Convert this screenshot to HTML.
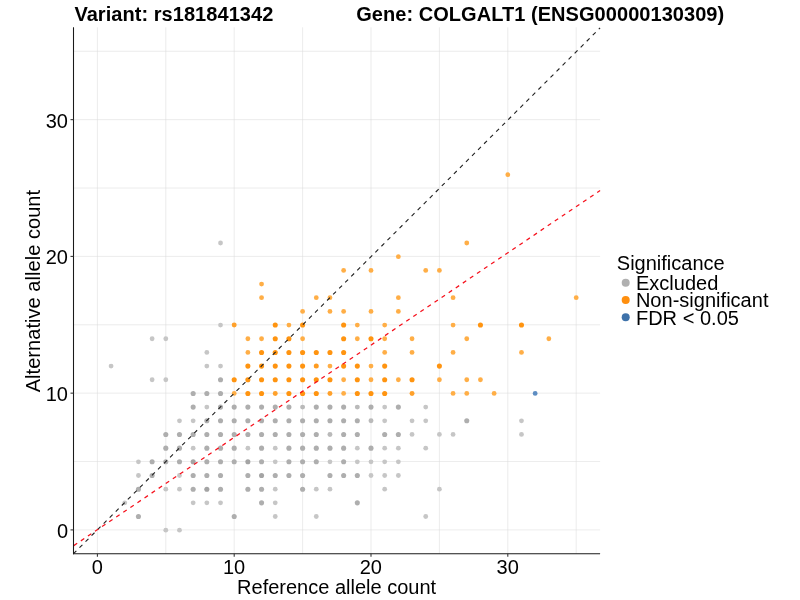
<!DOCTYPE html>
<html lang="en">
<head>
<meta charset="utf-8">
<title>Allele count plot</title>
<style>
html,body{margin:0;padding:0;background:#fff;}
body{width:800px;height:600px;overflow:hidden;font-family:"Liberation Sans",sans-serif;}
svg{display:block;will-change:transform;}
text{font-family:"Liberation Sans",sans-serif;font-size:20px;fill:#000;}
.b{font-weight:bold;}
.ls{letter-spacing:0.05px;}
.l2{letter-spacing:0.02px;}
.g line{stroke:#dadada;stroke-width:0.53;}
.ax{stroke:#1a1a1a;stroke-width:1.07;fill:none;}
.tk line{stroke:#333;stroke-width:1.07;}
</style>
</head>
<body>
<svg width="800" height="600" viewBox="0 0 800 600">
<rect x="0" y="0" width="800" height="600" fill="#ffffff"/>
<text class="b ls" x="74.4" y="20.7">Variant: rs181841342</text>
<text class="b ls" x="356.2" y="20.7">Gene: COLGALT1 (ENSG00000130309)</text>
<g class="g">
<line x1="97.40" y1="27.3" x2="97.40" y2="553.7"/>
<line x1="165.80" y1="27.3" x2="165.80" y2="553.7"/>
<line x1="234.20" y1="27.3" x2="234.20" y2="553.7"/>
<line x1="302.60" y1="27.3" x2="302.60" y2="553.7"/>
<line x1="371.00" y1="27.3" x2="371.00" y2="553.7"/>
<line x1="439.40" y1="27.3" x2="439.40" y2="553.7"/>
<line x1="507.80" y1="27.3" x2="507.80" y2="553.7"/>
<line x1="576.20" y1="27.3" x2="576.20" y2="553.7"/>
<line x1="73.5" y1="529.90" x2="600.1" y2="529.90"/>
<line x1="73.5" y1="461.52" x2="600.1" y2="461.52"/>
<line x1="73.5" y1="393.15" x2="600.1" y2="393.15"/>
<line x1="73.5" y1="324.77" x2="600.1" y2="324.77"/>
<line x1="73.5" y1="256.40" x2="600.1" y2="256.40"/>
<line x1="73.5" y1="188.02" x2="600.1" y2="188.02"/>
<line x1="73.5" y1="119.65" x2="600.1" y2="119.65"/>
<line x1="73.5" y1="51.27" x2="600.1" y2="51.27"/>
</g>
<g>
<circle cx="165.80" cy="530.20" r="2.40" fill="#c6c6c6"/>
<circle cx="179.48" cy="530.20" r="2.40" fill="#c6c6c6"/>
<circle cx="138.44" cy="516.52" r="2.55" fill="#aeaeae"/>
<circle cx="234.20" cy="516.52" r="2.55" fill="#aeaeae"/>
<circle cx="275.24" cy="516.52" r="2.40" fill="#c6c6c6"/>
<circle cx="316.28" cy="516.52" r="2.40" fill="#c6c6c6"/>
<circle cx="425.72" cy="516.52" r="2.40" fill="#c6c6c6"/>
<circle cx="124.76" cy="502.85" r="2.40" fill="#c6c6c6"/>
<circle cx="193.16" cy="502.85" r="2.40" fill="#c6c6c6"/>
<circle cx="206.84" cy="502.85" r="2.40" fill="#c6c6c6"/>
<circle cx="220.52" cy="502.85" r="2.40" fill="#c6c6c6"/>
<circle cx="261.56" cy="502.85" r="2.55" fill="#aeaeae"/>
<circle cx="275.24" cy="502.85" r="2.40" fill="#c6c6c6"/>
<circle cx="357.32" cy="502.85" r="2.55" fill="#aeaeae"/>
<circle cx="138.44" cy="489.18" r="2.55" fill="#aeaeae"/>
<circle cx="165.80" cy="489.18" r="2.40" fill="#c6c6c6"/>
<circle cx="179.48" cy="489.18" r="2.40" fill="#c6c6c6"/>
<circle cx="193.16" cy="489.18" r="2.55" fill="#aeaeae"/>
<circle cx="206.84" cy="489.18" r="2.55" fill="#a4a4a4"/>
<circle cx="220.52" cy="489.18" r="2.55" fill="#aeaeae"/>
<circle cx="247.88" cy="489.18" r="2.55" fill="#aeaeae"/>
<circle cx="261.56" cy="489.18" r="2.55" fill="#aeaeae"/>
<circle cx="275.24" cy="489.18" r="2.40" fill="#c6c6c6"/>
<circle cx="302.60" cy="489.18" r="2.55" fill="#aeaeae"/>
<circle cx="316.28" cy="489.18" r="2.40" fill="#c6c6c6"/>
<circle cx="329.96" cy="489.18" r="2.40" fill="#c6c6c6"/>
<circle cx="384.68" cy="489.18" r="2.40" fill="#c6c6c6"/>
<circle cx="439.40" cy="489.18" r="2.40" fill="#c6c6c6"/>
<circle cx="138.44" cy="475.50" r="2.40" fill="#c6c6c6"/>
<circle cx="152.12" cy="475.50" r="2.55" fill="#aeaeae"/>
<circle cx="179.48" cy="475.50" r="2.40" fill="#c6c6c6"/>
<circle cx="193.16" cy="475.50" r="2.55" fill="#aeaeae"/>
<circle cx="206.84" cy="475.50" r="2.55" fill="#aeaeae"/>
<circle cx="220.52" cy="475.50" r="2.55" fill="#aeaeae"/>
<circle cx="247.88" cy="475.50" r="2.55" fill="#aeaeae"/>
<circle cx="261.56" cy="475.50" r="2.55" fill="#a4a4a4"/>
<circle cx="275.24" cy="475.50" r="2.55" fill="#aeaeae"/>
<circle cx="288.92" cy="475.50" r="2.55" fill="#aeaeae"/>
<circle cx="302.60" cy="475.50" r="2.55" fill="#aeaeae"/>
<circle cx="329.96" cy="475.50" r="2.55" fill="#aeaeae"/>
<circle cx="343.64" cy="475.50" r="2.55" fill="#aeaeae"/>
<circle cx="357.32" cy="475.50" r="2.55" fill="#aeaeae"/>
<circle cx="371.00" cy="475.50" r="2.40" fill="#c6c6c6"/>
<circle cx="384.68" cy="475.50" r="2.40" fill="#c6c6c6"/>
<circle cx="398.36" cy="475.50" r="2.40" fill="#c6c6c6"/>
<circle cx="138.44" cy="461.82" r="2.40" fill="#c6c6c6"/>
<circle cx="152.12" cy="461.82" r="2.55" fill="#aeaeae"/>
<circle cx="165.80" cy="461.82" r="2.55" fill="#aeaeae"/>
<circle cx="179.48" cy="461.82" r="2.55" fill="#aeaeae"/>
<circle cx="193.16" cy="461.82" r="2.55" fill="#a4a4a4"/>
<circle cx="206.84" cy="461.82" r="2.55" fill="#aeaeae"/>
<circle cx="220.52" cy="461.82" r="2.55" fill="#aeaeae"/>
<circle cx="234.20" cy="461.82" r="2.55" fill="#aeaeae"/>
<circle cx="247.88" cy="461.82" r="2.55" fill="#a4a4a4"/>
<circle cx="261.56" cy="461.82" r="2.55" fill="#aeaeae"/>
<circle cx="275.24" cy="461.82" r="2.40" fill="#c6c6c6"/>
<circle cx="288.92" cy="461.82" r="2.55" fill="#aeaeae"/>
<circle cx="302.60" cy="461.82" r="2.55" fill="#aeaeae"/>
<circle cx="316.28" cy="461.82" r="2.55" fill="#aeaeae"/>
<circle cx="329.96" cy="461.82" r="2.40" fill="#c6c6c6"/>
<circle cx="343.64" cy="461.82" r="2.55" fill="#aeaeae"/>
<circle cx="357.32" cy="461.82" r="2.40" fill="#c6c6c6"/>
<circle cx="371.00" cy="461.82" r="2.40" fill="#c6c6c6"/>
<circle cx="384.68" cy="461.82" r="2.40" fill="#c6c6c6"/>
<circle cx="398.36" cy="461.82" r="2.40" fill="#c6c6c6"/>
<circle cx="165.80" cy="448.15" r="2.55" fill="#aeaeae"/>
<circle cx="179.48" cy="448.15" r="2.55" fill="#aeaeae"/>
<circle cx="193.16" cy="448.15" r="2.40" fill="#c6c6c6"/>
<circle cx="206.84" cy="448.15" r="2.55" fill="#aeaeae"/>
<circle cx="220.52" cy="448.15" r="2.55" fill="#aeaeae"/>
<circle cx="234.20" cy="448.15" r="2.55" fill="#aeaeae"/>
<circle cx="247.88" cy="448.15" r="2.40" fill="#c6c6c6"/>
<circle cx="261.56" cy="448.15" r="2.55" fill="#aeaeae"/>
<circle cx="275.24" cy="448.15" r="2.40" fill="#c6c6c6"/>
<circle cx="288.92" cy="448.15" r="2.55" fill="#aeaeae"/>
<circle cx="302.60" cy="448.15" r="2.55" fill="#aeaeae"/>
<circle cx="316.28" cy="448.15" r="2.55" fill="#aeaeae"/>
<circle cx="329.96" cy="448.15" r="2.55" fill="#aeaeae"/>
<circle cx="343.64" cy="448.15" r="2.55" fill="#aeaeae"/>
<circle cx="357.32" cy="448.15" r="2.40" fill="#c6c6c6"/>
<circle cx="371.00" cy="448.15" r="2.55" fill="#aeaeae"/>
<circle cx="384.68" cy="448.15" r="2.40" fill="#c6c6c6"/>
<circle cx="398.36" cy="448.15" r="2.40" fill="#c6c6c6"/>
<circle cx="425.72" cy="448.15" r="2.40" fill="#c6c6c6"/>
<circle cx="165.80" cy="434.47" r="2.55" fill="#aeaeae"/>
<circle cx="179.48" cy="434.47" r="2.55" fill="#aeaeae"/>
<circle cx="193.16" cy="434.47" r="2.55" fill="#aeaeae"/>
<circle cx="206.84" cy="434.47" r="2.55" fill="#aeaeae"/>
<circle cx="220.52" cy="434.47" r="2.55" fill="#aeaeae"/>
<circle cx="234.20" cy="434.47" r="2.55" fill="#aeaeae"/>
<circle cx="247.88" cy="434.47" r="2.55" fill="#aeaeae"/>
<circle cx="261.56" cy="434.47" r="2.55" fill="#aeaeae"/>
<circle cx="275.24" cy="434.47" r="2.55" fill="#aeaeae"/>
<circle cx="288.92" cy="434.47" r="2.55" fill="#aeaeae"/>
<circle cx="302.60" cy="434.47" r="2.55" fill="#aeaeae"/>
<circle cx="316.28" cy="434.47" r="2.55" fill="#aeaeae"/>
<circle cx="329.96" cy="434.47" r="2.48" fill="#bababa"/>
<circle cx="343.64" cy="434.47" r="2.55" fill="#aeaeae"/>
<circle cx="357.32" cy="434.47" r="2.55" fill="#aeaeae"/>
<circle cx="384.68" cy="434.47" r="2.55" fill="#aeaeae"/>
<circle cx="398.36" cy="434.47" r="2.55" fill="#aeaeae"/>
<circle cx="412.04" cy="434.47" r="2.40" fill="#c6c6c6"/>
<circle cx="439.40" cy="434.47" r="2.40" fill="#c6c6c6"/>
<circle cx="453.08" cy="434.47" r="2.40" fill="#c6c6c6"/>
<circle cx="521.48" cy="434.47" r="2.40" fill="#c6c6c6"/>
<circle cx="179.48" cy="420.80" r="2.40" fill="#c6c6c6"/>
<circle cx="193.16" cy="420.80" r="2.40" fill="#c6c6c6"/>
<circle cx="206.84" cy="420.80" r="2.55" fill="#aeaeae"/>
<circle cx="220.52" cy="420.80" r="2.55" fill="#aeaeae"/>
<circle cx="234.20" cy="420.80" r="2.55" fill="#aeaeae"/>
<circle cx="247.88" cy="420.80" r="2.55" fill="#aeaeae"/>
<circle cx="261.56" cy="420.80" r="2.55" fill="#aeaeae"/>
<circle cx="275.24" cy="420.80" r="2.55" fill="#aeaeae"/>
<circle cx="288.92" cy="420.80" r="2.55" fill="#aeaeae"/>
<circle cx="302.60" cy="420.80" r="2.55" fill="#aeaeae"/>
<circle cx="316.28" cy="420.80" r="2.55" fill="#aeaeae"/>
<circle cx="329.96" cy="420.80" r="2.55" fill="#aeaeae"/>
<circle cx="343.64" cy="420.80" r="2.55" fill="#aeaeae"/>
<circle cx="357.32" cy="420.80" r="2.55" fill="#aeaeae"/>
<circle cx="371.00" cy="420.80" r="2.48" fill="#bababa"/>
<circle cx="384.68" cy="420.80" r="2.40" fill="#c6c6c6"/>
<circle cx="412.04" cy="420.80" r="2.40" fill="#c6c6c6"/>
<circle cx="425.72" cy="420.80" r="2.40" fill="#c6c6c6"/>
<circle cx="466.76" cy="420.80" r="2.55" fill="#aeaeae"/>
<circle cx="521.48" cy="420.80" r="2.40" fill="#c6c6c6"/>
<circle cx="193.16" cy="407.12" r="2.55" fill="#aeaeae"/>
<circle cx="206.84" cy="407.12" r="2.40" fill="#c6c6c6"/>
<circle cx="220.52" cy="407.12" r="2.55" fill="#aeaeae"/>
<circle cx="234.20" cy="407.12" r="2.55" fill="#aeaeae"/>
<circle cx="247.88" cy="407.12" r="2.55" fill="#aeaeae"/>
<circle cx="261.56" cy="407.12" r="2.55" fill="#aeaeae"/>
<circle cx="275.24" cy="407.12" r="2.55" fill="#aeaeae"/>
<circle cx="288.92" cy="407.12" r="2.55" fill="#aeaeae"/>
<circle cx="302.60" cy="407.12" r="2.48" fill="#bababa"/>
<circle cx="316.28" cy="407.12" r="2.55" fill="#aeaeae"/>
<circle cx="329.96" cy="407.12" r="2.55" fill="#aeaeae"/>
<circle cx="343.64" cy="407.12" r="2.55" fill="#aeaeae"/>
<circle cx="357.32" cy="407.12" r="2.48" fill="#bababa"/>
<circle cx="371.00" cy="407.12" r="2.55" fill="#aeaeae"/>
<circle cx="384.68" cy="407.12" r="2.40" fill="#c6c6c6"/>
<circle cx="398.36" cy="407.12" r="2.55" fill="#aeaeae"/>
<circle cx="425.72" cy="407.12" r="2.40" fill="#c6c6c6"/>
<circle cx="193.16" cy="393.45" r="2.55" fill="#aeaeae"/>
<circle cx="206.84" cy="393.45" r="2.55" fill="#aeaeae"/>
<circle cx="220.52" cy="393.45" r="2.55" fill="#aeaeae"/>
<circle cx="152.12" cy="379.77" r="2.40" fill="#c6c6c6"/>
<circle cx="165.80" cy="379.77" r="2.40" fill="#c6c6c6"/>
<circle cx="220.52" cy="379.77" r="2.55" fill="#aeaeae"/>
<circle cx="111.08" cy="366.10" r="2.40" fill="#c6c6c6"/>
<circle cx="206.84" cy="366.10" r="2.40" fill="#c6c6c6"/>
<circle cx="220.52" cy="366.10" r="2.40" fill="#c6c6c6"/>
<circle cx="206.84" cy="352.43" r="2.40" fill="#c6c6c6"/>
<circle cx="152.12" cy="338.75" r="2.40" fill="#c6c6c6"/>
<circle cx="165.80" cy="338.75" r="2.40" fill="#c6c6c6"/>
<circle cx="220.52" cy="325.07" r="2.40" fill="#c6c6c6"/>
<circle cx="220.52" cy="243.02" r="2.40" fill="#c6c6c6"/>
<circle cx="234.20" cy="393.45" r="2.40" fill="#ffae46"/>
<circle cx="247.88" cy="393.45" r="2.55" fill="#ff9410"/>
<circle cx="261.56" cy="393.45" r="2.55" fill="#ff9410"/>
<circle cx="275.24" cy="393.45" r="2.48" fill="#ffa12b"/>
<circle cx="288.92" cy="393.45" r="2.55" fill="#ff9410"/>
<circle cx="302.60" cy="393.45" r="2.55" fill="#ff9410"/>
<circle cx="316.28" cy="393.45" r="2.55" fill="#ff9410"/>
<circle cx="329.96" cy="393.45" r="2.48" fill="#ffa12b"/>
<circle cx="343.64" cy="393.45" r="2.40" fill="#ffae46"/>
<circle cx="357.32" cy="393.45" r="2.55" fill="#ff9410"/>
<circle cx="371.00" cy="393.45" r="2.55" fill="#ff9410"/>
<circle cx="384.68" cy="393.45" r="2.55" fill="#ff9410"/>
<circle cx="412.04" cy="393.45" r="2.48" fill="#ffa12b"/>
<circle cx="453.08" cy="393.45" r="2.40" fill="#ffae46"/>
<circle cx="466.76" cy="393.45" r="2.40" fill="#ffae46"/>
<circle cx="494.12" cy="393.45" r="2.40" fill="#ffae46"/>
<circle cx="234.20" cy="379.77" r="2.55" fill="#ff9410"/>
<circle cx="247.88" cy="379.77" r="2.55" fill="#ff9410"/>
<circle cx="261.56" cy="379.77" r="2.55" fill="#ff9410"/>
<circle cx="275.24" cy="379.77" r="2.55" fill="#ff9410"/>
<circle cx="288.92" cy="379.77" r="2.55" fill="#ff9410"/>
<circle cx="302.60" cy="379.77" r="2.55" fill="#ff9410"/>
<circle cx="316.28" cy="379.77" r="2.55" fill="#ff9410"/>
<circle cx="329.96" cy="379.77" r="2.55" fill="#ff9410"/>
<circle cx="343.64" cy="379.77" r="2.40" fill="#ffae46"/>
<circle cx="357.32" cy="379.77" r="2.55" fill="#ff9410"/>
<circle cx="371.00" cy="379.77" r="2.40" fill="#ffae46"/>
<circle cx="384.68" cy="379.77" r="2.55" fill="#ff9410"/>
<circle cx="398.36" cy="379.77" r="2.40" fill="#ffae46"/>
<circle cx="412.04" cy="379.77" r="2.55" fill="#ff9410"/>
<circle cx="439.40" cy="379.77" r="2.40" fill="#ffae46"/>
<circle cx="466.76" cy="379.77" r="2.40" fill="#ffae46"/>
<circle cx="480.44" cy="379.77" r="2.40" fill="#ffae46"/>
<circle cx="247.88" cy="366.10" r="2.55" fill="#ff9410"/>
<circle cx="261.56" cy="366.10" r="2.55" fill="#ff9410"/>
<circle cx="275.24" cy="366.10" r="2.55" fill="#ff9410"/>
<circle cx="288.92" cy="366.10" r="2.55" fill="#ff9410"/>
<circle cx="302.60" cy="366.10" r="2.55" fill="#ff9410"/>
<circle cx="316.28" cy="366.10" r="2.50" fill="#ff9c20"/>
<circle cx="329.96" cy="366.10" r="2.40" fill="#ffae46"/>
<circle cx="343.64" cy="366.10" r="2.55" fill="#ff9410"/>
<circle cx="357.32" cy="366.10" r="2.55" fill="#ff9410"/>
<circle cx="371.00" cy="366.10" r="2.40" fill="#ffae46"/>
<circle cx="384.68" cy="366.10" r="2.55" fill="#ff9410"/>
<circle cx="439.40" cy="366.10" r="2.55" fill="#ff9410"/>
<circle cx="247.88" cy="352.43" r="2.40" fill="#ffae46"/>
<circle cx="261.56" cy="352.43" r="2.55" fill="#ff9410"/>
<circle cx="275.24" cy="352.43" r="2.55" fill="#ff9410"/>
<circle cx="288.92" cy="352.43" r="2.55" fill="#ff9410"/>
<circle cx="302.60" cy="352.43" r="2.55" fill="#ff9410"/>
<circle cx="316.28" cy="352.43" r="2.55" fill="#ff9410"/>
<circle cx="329.96" cy="352.43" r="2.55" fill="#ff9410"/>
<circle cx="343.64" cy="352.43" r="2.55" fill="#ff9410"/>
<circle cx="384.68" cy="352.43" r="2.40" fill="#ffae46"/>
<circle cx="412.04" cy="352.43" r="2.40" fill="#ffae46"/>
<circle cx="453.08" cy="352.43" r="2.40" fill="#ffae46"/>
<circle cx="521.48" cy="352.43" r="2.40" fill="#ffae46"/>
<circle cx="247.88" cy="338.75" r="2.40" fill="#ffae46"/>
<circle cx="261.56" cy="338.75" r="2.40" fill="#ffae46"/>
<circle cx="275.24" cy="338.75" r="2.55" fill="#ff9410"/>
<circle cx="288.92" cy="338.75" r="2.55" fill="#ff9410"/>
<circle cx="302.60" cy="338.75" r="2.40" fill="#ffae46"/>
<circle cx="343.64" cy="338.75" r="2.55" fill="#ff9410"/>
<circle cx="357.32" cy="338.75" r="2.40" fill="#ffae46"/>
<circle cx="371.00" cy="338.75" r="2.55" fill="#ff9410"/>
<circle cx="384.68" cy="338.75" r="2.40" fill="#ffae46"/>
<circle cx="412.04" cy="338.75" r="2.40" fill="#ffae46"/>
<circle cx="466.76" cy="338.75" r="2.40" fill="#ffae46"/>
<circle cx="548.84" cy="338.75" r="2.40" fill="#ffae46"/>
<circle cx="234.20" cy="325.07" r="2.48" fill="#ffa12b"/>
<circle cx="275.24" cy="325.07" r="2.55" fill="#ff9410"/>
<circle cx="288.92" cy="325.07" r="2.40" fill="#ffae46"/>
<circle cx="302.60" cy="325.07" r="2.55" fill="#ff9410"/>
<circle cx="343.64" cy="325.07" r="2.55" fill="#ff9410"/>
<circle cx="357.32" cy="325.07" r="2.40" fill="#ffae46"/>
<circle cx="384.68" cy="325.07" r="2.40" fill="#ffae46"/>
<circle cx="453.08" cy="325.07" r="2.40" fill="#ffae46"/>
<circle cx="480.44" cy="325.07" r="2.55" fill="#ff9410"/>
<circle cx="521.48" cy="325.07" r="2.55" fill="#ff9410"/>
<circle cx="302.60" cy="311.40" r="2.40" fill="#ffae46"/>
<circle cx="329.96" cy="311.40" r="2.40" fill="#ffae46"/>
<circle cx="343.64" cy="311.40" r="2.40" fill="#ffae46"/>
<circle cx="371.00" cy="311.40" r="2.40" fill="#ffae46"/>
<circle cx="398.36" cy="311.40" r="2.40" fill="#ffae46"/>
<circle cx="261.56" cy="297.72" r="2.40" fill="#ffae46"/>
<circle cx="316.28" cy="297.72" r="2.40" fill="#ffae46"/>
<circle cx="329.96" cy="297.72" r="2.40" fill="#ffae46"/>
<circle cx="398.36" cy="297.72" r="2.40" fill="#ffae46"/>
<circle cx="453.08" cy="297.72" r="2.40" fill="#ffae46"/>
<circle cx="576.20" cy="297.72" r="2.40" fill="#ffae46"/>
<circle cx="261.56" cy="284.05" r="2.40" fill="#ffae46"/>
<circle cx="343.64" cy="270.38" r="2.40" fill="#ffae46"/>
<circle cx="371.00" cy="270.38" r="2.40" fill="#ffae46"/>
<circle cx="425.72" cy="270.38" r="2.40" fill="#ffae46"/>
<circle cx="439.40" cy="270.38" r="2.40" fill="#ffae46"/>
<circle cx="398.36" cy="256.70" r="2.40" fill="#ffae46"/>
<circle cx="466.76" cy="243.02" r="2.40" fill="#ffae46"/>
<circle cx="507.80" cy="174.65" r="2.40" fill="#ffae46"/>
<circle cx="535.16" cy="393.45" r="2.40" fill="#5d8dc2"/>
</g>
<line x1="73.50" y1="553.70" x2="600.10" y2="27.90" stroke="#1f1f1f" stroke-width="1.1" stroke-dasharray="4.1 4.433" stroke-dashoffset="0.05"/>
<line x1="73.50" y1="545.83" x2="600.10" y2="190.50" stroke="#f6101c" stroke-width="1.25" stroke-dasharray="4.1 4.433" stroke-dashoffset="-0.35"/>
<line class="ax" x1="73.50" y1="27.3" x2="73.50" y2="554.2"/>
<line class="ax" x1="73.0" y1="553.70" x2="600.1" y2="553.70"/>
<g class="tk">
<line x1="97.40" y1="553.70" x2="97.40" y2="556.80"/>
<line x1="70.50" y1="529.90" x2="73.50" y2="529.90"/>
<line x1="234.20" y1="553.70" x2="234.20" y2="556.80"/>
<line x1="70.50" y1="393.15" x2="73.50" y2="393.15"/>
<line x1="371.00" y1="553.70" x2="371.00" y2="556.80"/>
<line x1="70.50" y1="256.40" x2="73.50" y2="256.40"/>
<line x1="507.80" y1="553.70" x2="507.80" y2="556.80"/>
<line x1="70.50" y1="119.65" x2="73.50" y2="119.65"/>
</g>
<text x="97.25" y="573.7" text-anchor="middle">0</text>
<text x="68.0" y="537.80" text-anchor="end">0</text>
<text x="234.05" y="573.7" text-anchor="middle">10</text>
<text x="68.0" y="401.05" text-anchor="end">10</text>
<text x="370.85" y="573.7" text-anchor="middle">20</text>
<text x="68.0" y="264.30" text-anchor="end">20</text>
<text x="507.65" y="573.7" text-anchor="middle">30</text>
<text x="68.0" y="127.55" text-anchor="end">30</text>
<text x="336.6" y="593.8" text-anchor="middle">Reference allele count</text>
<text class="ls" transform="translate(39.9 291.1) rotate(-90)" text-anchor="middle">Alternative allele count</text>
<text x="616.8" y="270.1">Significance</text>
<circle cx="625.7" cy="282.7" r="4" fill="#b0b0b0"/>
<text class="l2" x="635.9" y="290.15">Excluded</text>
<circle cx="625.7" cy="299.9" r="4" fill="#ff8f0e"/>
<text class="l2" x="635.9" y="307.35">Non-significant</text>
<circle cx="625.7" cy="317.2" r="4" fill="#3e72aa"/>
<text class="l2" x="635.9" y="324.65">FDR &lt; 0.05</text>
</svg>
</body>
</html>
